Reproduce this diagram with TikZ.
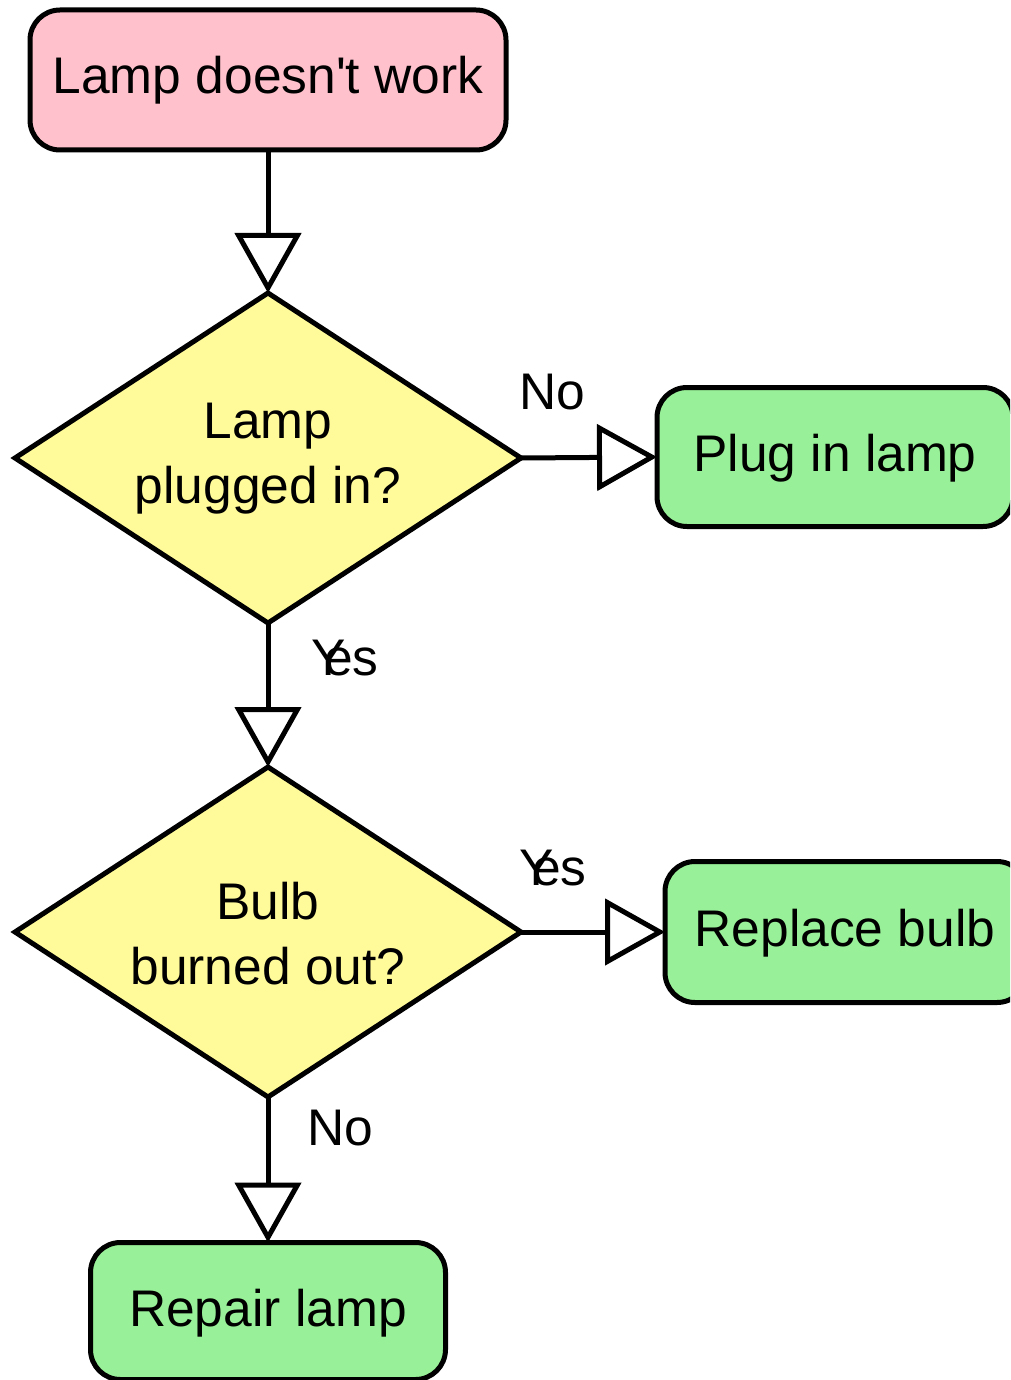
\documentclass[tikz,border=0pt]{standalone}
\usepackage{fontspec}
\setmainfont{Liberation Sans}
\usetikzlibrary{shapes.geometric,arrows.meta}
\definecolor{boxpink}{RGB}{255,193,204}
\definecolor{boxgreen}{RGB}{152,240,152}
\definecolor{boxyellow}{RGB}{255,251,155}
\tikzset{
  txt/.style={font=\fontsize{51.5}{65}\selectfont, align=center, inner sep=0pt},
  startbox/.style={draw=black, line width=5pt, fill=boxpink, rectangle, rounded corners=30pt, outer sep=0pt},
  endbox/.style={draw=black, line width=5pt, fill=boxgreen, rectangle, rounded corners=30pt, outer sep=0pt},
  decide/.style={draw=black, line width=5pt, fill=boxyellow, diamond, aspect=1.533, inner sep=0pt, outer sep=0pt, minimum width=506pt, minimum height=330pt},
  conn/.style={draw=black, line width=5pt, -{Triangle[open, length=60pt, width=66pt, fill=white, line width=5pt]}},
  lbl/.style={font=\fontsize{51.5}{65}\selectfont, inner sep=0pt}
}
\begin{document}
\begin{tikzpicture}[x=1pt,y=-1pt]
\useasboundingbox (0,0) rectangle (1010,1380);
\clip (0,0) rectangle (1010,1380);
% nodes
\node[startbox, minimum width=476pt, minimum height=140pt] (start) at (268,80) {};
\node[txt] (tstart) at (268,80) {Lamp doesn\textquotesingle t work};
\node[decide] (d1) at (268,458) {};
\node[txt] (td1) at (268,459) {Lamp\\plugged in?};
\node[endbox, minimum width=356pt, minimum height=139pt] (plug) at (835,457) {};
\node[txt] (tplug) at (835,458) {Plug in lamp};
\node[decide] (d2) at (268,932) {};
\node[txt] (td2) at (268,934) {Bulb\\burned out?};
\node[endbox, minimum width=362pt, minimum height=141pt] (bulb) at (846,932) {};
\node[txt] (tbulb) at (845,933) {Replace bulb};
\node[endbox, minimum width=355pt, minimum height=137pt] (repair) at (268,1311) {};
\node[txt] (trepair) at (268,1313) {Repair lamp};
% connectors
\draw[conn] (start.south) -- (d1.north);
\draw[conn] (d1.east) -- (plug.west);
\draw[conn] (d1.south) -- (d2.north);
\draw[conn] (d2.east) -- (bulb.west);
\draw[conn] (d2.south) -- (repair.north);
% labels
\node[lbl] (l1) at (552,392) {No};
\node[lbl] (l2) at (345,658) {Y\kern-0.42em es};
\node[lbl] (l3) at (553,868) {Y\kern-0.42em es};
\node[lbl] (l4) at (340,1128) {No};
\end{tikzpicture}
\end{document}
